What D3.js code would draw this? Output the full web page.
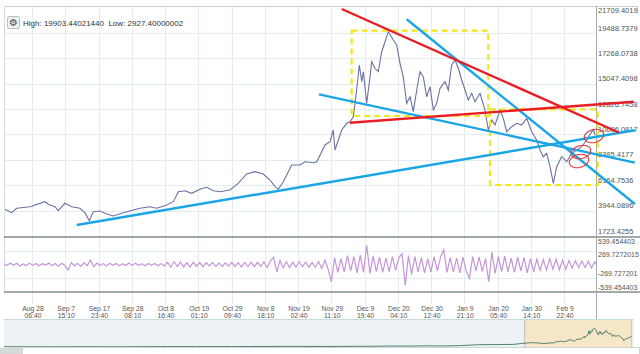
<!DOCTYPE html>
<meta charset="utf-8">
<style>
body {
  margin: 0;
  background: #fff;
  font-family: "Liberation Sans", Arial, sans-serif;
}
.grid line {
  stroke: #e3ecef;
  stroke-width: 1;
}
.lab {
  font-size: 7.5px;
  fill: #555;
}
.olab {
  font-size: 7px;
  fill: #555;
}
.xlab {
  font-size: 6.8px;
  fill: #555;
}
</style>
<body>
<script src="https://d3js.org/d3.v7.min.js"></script>
<script>

var width = 640,
    height = 354;

var parse = d3.utcParse("%Y-%m-%d %H:%M");

// x ticks (every 10d 8h30m)
var xTickTimes = ["2017-08-28 06:40", "2017-09-07 15:10", "2017-09-17 23:40", "2017-09-28 08:10",
  "2017-10-08 16:40", "2017-10-19 01:10", "2017-10-29 09:40", "2017-11-08 18:10", "2017-11-19 02:40",
  "2017-11-29 11:10", "2017-12-09 19:40", "2017-12-20 04:10", "2017-12-30 12:40", "2018-01-09 21:10",
  "2018-01-20 05:40", "2018-01-30 14:10", "2018-02-09 22:40"];

var priceTicks = ["1723.4255", "3944.0896", "6164.7536", "8385.4177", "10606.0817",
  "12826.7458", "15047.4098", "17268.0738", "19488.7379", "21709.4019"];

var oscTicks = ["539.454403", "269.7272015", "-269.727201", "-539.454403"];

var headerText = "High: 19903.44021440  Low: 2927.40000002";

// price (close)
var priceTimes = ["2017-08-19 21:00", "2017-08-21 23:00", "2017-08-23 12:00", "2017-08-27 16:00",
  "2017-09-01 08:00", "2017-09-02 08:00", "2017-09-04 10:00", "2017-09-05 11:00", "2017-09-07 13:00",
  "2017-09-09 15:00", "2017-09-12 05:00", "2017-09-13 18:00", "2017-09-15 03:00", "2017-09-16 09:00",
  "2017-09-18 11:00", "2017-09-20 13:00", "2017-09-22 14:00", "2017-09-25 17:00", "2017-09-28 19:00",
  "2017-09-30 22:00", "2017-10-04 00:00", "2017-10-06 03:00", "2017-10-09 05:00", "2017-10-11 07:00",
  "2017-10-12 20:00", "2017-10-14 22:00", "2017-10-17 00:00", "2017-10-19 14:00", "2017-10-21 16:00",
  "2017-10-23 18:00", "2017-10-25 20:00", "2017-10-28 22:00", "2017-10-31 12:00", "2017-11-03 03:00",
  "2017-11-05 17:00", "2017-11-08 07:00", "2017-11-10 09:00", "2017-11-11 23:00", "2017-11-12 23:00",
  "2017-11-14 13:00", "2017-11-17 03:00", "2017-11-19 18:00", "2017-11-21 07:00", "2017-11-23 21:00",
  "2017-11-24 22:00", "2017-11-26 12:00", "2017-11-27 12:00", "2017-11-29 02:00", "2017-11-30 02:00",
  "2017-11-30 15:00", "2017-12-02 17:00", "2017-12-04 07:00", "2017-12-05 07:00", "2017-12-06 08:00",
  "2017-12-07 09:00", "2017-12-08 05:00", "2017-12-08 23:00", "2017-12-09 11:00", "2017-12-10 12:00",
  "2017-12-11 13:00", "2017-12-12 01:00", "2017-12-13 02:00", "2017-12-14 03:00", "2017-12-15 04:00",
  "2017-12-16 05:00", "2017-12-17 05:00", "2017-12-18 19:00", "2017-12-19 20:00", "2017-12-20 21:00",
  "2017-12-21 21:00", "2017-12-22 23:00", "2017-12-24 00:00", "2017-12-25 00:00", "2017-12-26 02:00",
  "2017-12-27 02:00", "2017-12-28 03:00", "2017-12-29 04:00", "2017-12-30 05:00", "2017-12-31 06:00",
  "2018-01-01 07:00", "2018-01-02 08:00", "2018-01-03 21:00", "2018-01-04 22:00", "2018-01-05 23:00",
  "2018-01-07 00:00", "2018-01-08 01:00", "2018-01-09 02:00", "2018-01-10 03:00", "2018-01-11 03:00",
  "2018-01-12 05:00", "2018-01-13 05:00", "2018-01-14 19:00", "2018-01-16 08:00", "2018-01-17 09:00",
  "2018-01-18 10:00", "2018-01-19 11:00", "2018-01-21 00:00", "2018-01-22 01:00", "2018-01-23 02:00",
  "2018-01-24 16:00", "2018-01-26 05:00", "2018-01-27 18:00", "2018-01-29 08:00", "2018-01-30 21:00",
  "2018-02-01 10:00", "2018-02-02 11:00", "2018-02-03 12:00", "2018-02-04 13:00", "2018-02-05 14:00",
  "2018-02-06 15:00", "2018-02-07 16:00", "2018-02-09 05:00", "2018-02-10 19:00", "2018-02-12 08:00",
  "2018-02-13 21:00", "2018-02-15 11:00", "2018-02-17 00:00", "2018-02-18 14:00", "2018-02-19 04:00",
  "2018-02-19 14:00"];

var priceValues = [4060, 3763, 4148, 4288,
  4725, 4498, 4288, 3938, 4585,
  4288, 4148, 3763, 3062, 3850,
  3911, 3649, 3474, 3763, 3999,
  4148, 4288, 4148, 4437, 4725,
  5600, 5688, 5460, 5810, 5985,
  5688, 5600, 5749, 6335, 7149,
  7351, 7149, 6624, 6038, 5810,
  6476, 7937, 7937, 8226, 8138,
  8226, 9101, 9687, 9976, 11000,
  9250, 11000, 11586, 11726, 12164,
  14500, 16688, 15227, 16102, 13337,
  15664, 16977, 16400, 16102, 17852,
  18727, 19602, 18876, 18439, 16837,
  15664, 13337, 13914, 12601, 14500,
  16102, 15664, 13914, 14789, 12750,
  13337, 14649, 15227, 14500, 16688,
  17126, 16400, 15376, 14500, 13625,
  14212, 13477, 14212, 12750, 11000,
  11875, 11438, 12750, 12024, 10851,
  11289, 11586, 11438, 12024, 10851,
  10124, 9250, 8663, 8961, 7788,
  6335, 7788, 8663, 8226, 8961,
  9250, 9538, 10124, 10851, 11000,
  10560];

// lower panel, one value per day from oscStart
var oscStart = "2017-08-19 12:00";
var oscValues = [18, -22, 30, -15, 25, -30, 12, -20, 28, -18,
  22, -26, 15, -12, 30, -24, 18, -35, 26, -20,
  -115, 40, -30, 25, -38, 32, -20, 90, -45, 30,
  -22, 18, -28, 24, -15, 20, -26, 16, -22, 28,
  -18, 25, -20, 14, -24, 22, -16, 20, -25, 18,
  -30, 45, -55, 60, -40, 50, -48, 38, -52, 44,
  -35, 40, -45, 36, -30, 42, -38, 28, -44, 35,
  -32, 45, -40, 38, -50, 42, -36, 48, -44, 40,
  -38, 55, -60, 70, 150, -150, 85, -70, 55, -60,
  48, -52, 60, -45, 50, -58, 42, -55, 60, -80,
  85, -95, -350, 140, -160, 120, -150, 180, -130, 160,
  -170, 190, -160, 390, -180, 170, -140, 150, -160, 130,
  -145, 160, -120, 140, 220, -420, 180, -200, 160, -150,
  140, -170, 120, -150, 160, -130, 150, 300, -160, 140,
  -150, 130, -170, 150, -140, -280, 160, -130, 150, -140,
  120, -350, 250, -180, 160, -140, 170, -150, 130, -160,
  150, -130, 140, -170, 120, -150, 110, -120, 100, -115,
  120, -95, 105, -110, 90, -100, 80, -70, 75, -65,
  70, -60, 65, -70, 55, -60];

// navigator history before the main window (monthly)
var navTimes = ["2015-03-06 00:00", "2015-04-01 00:00", "2015-05-01 00:00", "2015-06-01 00:00",
  "2015-07-01 00:00", "2015-08-01 00:00", "2015-09-01 00:00", "2015-10-01 00:00", "2015-11-01 00:00",
  "2015-12-01 00:00", "2016-01-01 00:00", "2016-02-01 00:00", "2016-03-01 00:00", "2016-04-01 00:00",
  "2016-05-01 00:00", "2016-06-01 00:00", "2016-07-01 00:00", "2016-08-01 00:00", "2016-09-01 00:00",
  "2016-10-01 00:00", "2016-11-01 00:00", "2016-12-01 00:00", "2017-01-01 00:00", "2017-02-01 00:00",
  "2017-03-01 00:00", "2017-04-01 00:00", "2017-05-01 00:00", "2017-06-01 00:00", "2017-07-01 00:00",
  "2017-08-01 00:00"];
var navValues = [275, 245, 235, 225, 260, 280, 230, 238, 315, 375, 430, 370, 435, 415, 450, 535,
  675, 620, 575, 615, 730, 750, 1000, 985, 1220, 1080, 1420, 2400, 2480, 2730];

// drawn annotations: [time, price]
var redLines = [
  [["2017-12-02 17:20", 21589], ["2018-02-27 00:00", 10781]],
  [["2017-12-05 07:10", 11639], ["2018-03-03 16:20", 13477]]
];
var blueLines = [
  [["2017-09-11 04:50", 2686], ["2018-03-04 00:00", 10974]],
  [["2017-11-25 15:30", 14124], ["2018-03-04 00:00", 8147]],
  [["2017-12-22 23:00", 20688], ["2018-03-04 00:00", 4524]]
];
var yellowBoxes = [
  [["2017-12-05 19:50", 19690], ["2018-01-17 08:50", 12225]],
  [["2018-01-17 21:30", 12812], ["2018-02-20 10:30", 6187]]
];
var redRings = [["2018-02-19 06:40", 10475], ["2018-02-15 05:40", 9075], ["2018-02-14 14:50", 8287]];

var svg = d3.select("body").append("svg")
    .attr("width", width)
    .attr("height", height);

var x = d3.scaleUtc()
    .domain([parse("2017-08-19 13:25"), parse("2018-02-19 21:40")])
    .range([4, 596]);
var y = d3.scaleLinear().domain([1635.9, 21851.6]).range([237, 6]);
var yo = d3.scaleLinear().domain([-539.454403, 539.454403]).range([291.1, 237.9]);

var navX = d3.scaleUtc()
    .domain([parse("2015-03-06 00:00"), parse("2018-02-24 00:00")])
    .range([4, 634]);
var navY = d3.scaleLinear().domain([0, 29000]).range([347, 319]);

var prices = priceTimes.map(function(t, i) { return {t: parse(t), v: priceValues[i]}; });
var osc = oscValues.map(function(v, i) { return {t: d3.utcDay.offset(parse(oscStart), i), v: v}; });
var nav = navTimes.map(function(t, i) { return {t: parse(t), v: navValues[i]}; }).concat(prices);

var defs = svg.append("defs");
defs.append("clipPath").attr("id", "clipMain")
  .append("rect").attr("x", 4).attr("y", 6).attr("width", 592).attr("height", 231);
defs.append("clipPath").attr("id", "clipOsc")
  .append("rect").attr("x", 4).attr("y", 237).attr("width", 592).attr("height", 55);

// navigator
svg.append("rect").attr("x", 4).attr("y", 319).attr("width", 630).attr("height", 28)
    .attr("fill", "#edf3f5");
svg.append("line").attr("x1", 4).attr("x2", 634).attr("y1", 319.5).attr("y2", 319.5)
    .attr("stroke", "#c6dade");
var selX0 = navX(x.domain()[0]), selX1 = navX(x.domain()[1]);
svg.append("rect").attr("x", selX0).attr("y", 320).attr("width", selX1 - selX0).attr("height", 27)
    .attr("fill", "#f6e7c6");
svg.append("line").attr("x1", selX0).attr("x2", selX0).attr("y1", 320).attr("y2", 347)
    .attr("stroke", "#b9b9b9");
svg.append("line").attr("x1", selX1).attr("x2", selX1).attr("y1", 320).attr("y2", 347)
    .attr("stroke", "#c9c9c9");
svg.append("path").datum(nav)
    .attr("d", d3.line().x(function(d) { return navX(d.t); }).y(function(d) { return navY(d.v); }))
    .attr("fill", "none").attr("stroke", "#527f72").attr("stroke-width", 1);

// scrollbar
svg.append("rect").attr("x", 22.5).attr("y", 347.5).attr("width", 617).attr("height", 7)
    .attr("fill", "#fff").attr("stroke", "#cfd6d8");
svg.append("rect").attr("x", 0).attr("y", 347.5).attr("width", 22).attr("height", 7)
    .attr("fill", "#d6d9da");

// grid
var grid = svg.append("g").attr("class", "grid");
grid.selectAll(".vx").data(xTickTimes).enter().append("line")
    .attr("x1", function(d) { return Math.round(x(parse(d))) + 0.5; })
    .attr("x2", function(d) { return Math.round(x(parse(d))) + 0.5; })
    .attr("y1", 6).attr("y2", 304);
grid.selectAll(".hy").data(priceTicks.filter(function(d) { return y(+d) > 8; })).enter().append("line")
    .attr("x1", 4).attr("x2", 596)
    .attr("y1", function(d) { return Math.round(y(+d)) + 0.5; })
    .attr("y2", function(d) { return Math.round(y(+d)) + 0.5; });
grid.selectAll(".ho").data([269.7272015, -269.727201]).enter().append("line")
    .attr("x1", 4).attr("x2", 596)
    .attr("y1", function(d) { return Math.round(yo(d)) + 0.5; })
    .attr("y2", function(d) { return Math.round(yo(d)) + 0.5; });

// frame
svg.append("line").attr("x1", 4).attr("x2", 637).attr("y1", 6.5).attr("y2", 6.5).attr("stroke", "#c7d3d6");
svg.append("line").attr("x1", 4.5).attr("x2", 4.5).attr("y1", 6).attr("y2", 292).attr("stroke", "#d4dfe2");
svg.append("line").attr("x1", 637.5).attr("x2", 637.5).attr("y1", 6).attr("y2", 14).attr("stroke", "#c7d3d6");

// price line
svg.append("path").datum(prices)
    .attr("clip-path", "url(#clipMain)")
    .attr("d", d3.line().x(function(d) { return x(d.t); }).y(function(d) { return y(d.v); }))
    .attr("fill", "none").attr("stroke", "#6d71a2").attr("stroke-width", 1.1);

// lower panel
var og = svg.append("g").attr("clip-path", "url(#clipOsc)");
og.append("path").datum(osc)
    .attr("d", d3.line().x(function(d) { return x(d.t); }).y(function(d) { return yo(d.v); }))
    .attr("fill", "none").attr("stroke", "#c595d8").attr("stroke-width", 1.2);

// separators + right axis line
svg.selectAll(".sep").data([237, 292]).enter().append("line")
    .attr("x1", 4).attr("x2", 640).attr("y1", function(d) { return d; }).attr("y2", function(d) { return d; })
    .attr("stroke", "#858b8d").attr("stroke-width", 1.3);
svg.append("line").attr("x1", 596.5).attr("x2", 596.5).attr("y1", 6).attr("y2", 319)
    .attr("stroke", "#a3adb0");

// labels
svg.selectAll(".py").data(priceTicks).enter().append("text")
    .attr("class", "lab")
    .attr("x", 598)
    .attr("y", function(d) { return Math.max(y(+d) - 5, 10); })
    .attr("dy", "0.35em")
    .text(function(d) { return d; });
svg.selectAll(".oy").data(oscTicks).enter().append("text")
    .attr("class", "olab")
    .attr("x", 598)
    .attr("y", function(d) {
      var v = +d;
      return Math.min(Math.max(yo(v) + (v > 0 ? 3.3 : -4), 241), 288.3);
    })
    .attr("dy", "0.35em")
    .text(function(d) { return d; });

var fmtDay = d3.utcFormat("%b %-d"), fmtTime = d3.utcFormat("%H:%M");
svg.selectAll(".xd").data(xTickTimes).enter().append("text")
    .attr("class", "xlab")
    .attr("text-anchor", "middle")
    .attr("x", function(d) { return x(parse(d)) + 1; })
    .attr("y", 311)
    .text(function(d) { return fmtDay(parse(d)); });
svg.selectAll(".xt").data(xTickTimes).enter().append("text")
    .attr("class", "xlab")
    .attr("text-anchor", "middle")
    .attr("x", function(d) { return x(parse(d)) + 1; })
    .attr("y", 318)
    .text(function(d) { return fmtTime(parse(d)); });

// header
svg.append("rect").attr("x", 7.5).attr("y", 16.5).attr("width", 12).attr("height", 12).attr("rx", 2)
    .attr("fill", "#eef1f3").attr("stroke", "#b5bec2");
svg.append("text").attr("x", 13.5).attr("y", 22.7).attr("dy", "0.35em").attr("text-anchor", "middle")
    .attr("font-family", "DejaVu Sans").attr("font-size", 10).attr("fill", "#3b4d5a").text("\u2699");
svg.append("text").attr("x", 23).attr("y", 23).attr("dy", "0.35em")
    .attr("font-size", 8).attr("fill", "#333").style("white-space", "pre")
    .text(headerText);

// annotations
function pt(p) { return [x(parse(p[0])), y(p[1])]; }

yellowBoxes.forEach(function(b) {
  var a = pt(b[0]), c = pt(b[1]);
  svg.append("rect").attr("x", a[0]).attr("y", a[1]).attr("width", c[0] - a[0]).attr("height", c[1] - a[1])
      .attr("fill", "none").attr("stroke", "#f3e61a").attr("stroke-width", 2.2).attr("stroke-dasharray", "6,4");
});
blueLines.forEach(function(l) {
  var a = pt(l[0]), c = pt(l[1]);
  svg.append("line").attr("x1", a[0]).attr("y1", a[1]).attr("x2", c[0]).attr("y2", c[1])
      .attr("stroke", "#1aa5e6").attr("stroke-width", 2.4);
});
redLines.forEach(function(l) {
  var a = pt(l[0]), c = pt(l[1]);
  svg.append("line").attr("x1", a[0]).attr("y1", a[1]).attr("x2", c[0]).attr("y2", c[1])
      .attr("stroke", "#ea1c24").attr("stroke-width", 2.4);
});
redRings.forEach(function(r) {
  var c = pt(r);
  svg.append("ellipse").attr("cx", c[0]).attr("cy", c[1]).attr("rx", 10).attr("ry", 6.5)
      .attr("transform", "rotate(-15," + c[0] + "," + c[1] + ")")
      .attr("fill", "none").attr("stroke", "#e8363a").attr("stroke-width", 1.1);
});

</script>
